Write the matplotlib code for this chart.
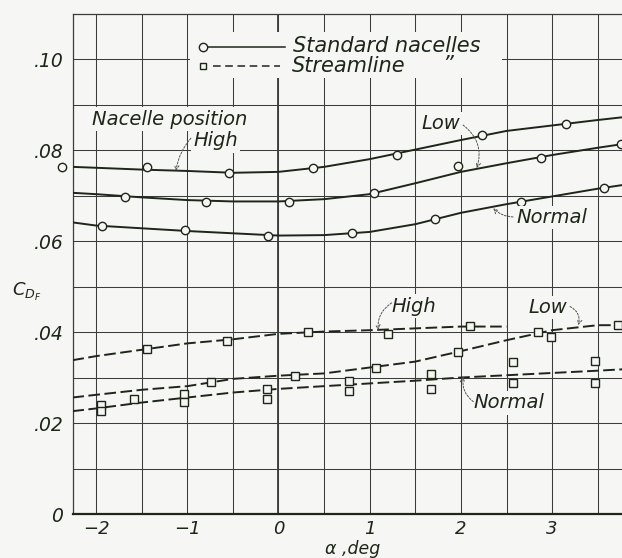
import matplotlib
matplotlib.use("Agg")
import matplotlib.pyplot as plt
from matplotlib.patches import Rectangle

# ---------------- data ----------------
# faired curves, alpha (deg)
curve_alpha = [-2.26, -2.0, -1.5, -1.0, -0.5, 0.0, 0.5, 1.0, 1.5, 2.0, 2.5, 3.0, 3.5, 3.77]
std_high_curve = [0.0763, 0.0761, 0.0757, 0.0754, 0.0750, 0.0752, 0.0763, 0.0780, 0.0801, 0.0822, 0.0842, 0.0854, 0.0866, 0.0872]
std_low_curve = [0.0706, 0.0703, 0.0696, 0.0690, 0.0687, 0.0687, 0.0692, 0.0703, 0.0727, 0.0752, 0.0771, 0.0789, 0.0805, 0.0813]
std_normal_curve = [0.0641, 0.0634, 0.0628, 0.0622, 0.0617, 0.0612, 0.0613, 0.0620, 0.0637, 0.0662, 0.0681, 0.0698, 0.0715, 0.0723]

sl_high_alpha = [-2.26, -2.0, -1.5, -1.0, -0.5, 0.0, 0.5, 1.0, 1.5, 2.0, 2.5]
sl_high_curve = [0.0338, 0.0347, 0.0361, 0.0375, 0.0384, 0.0396, 0.0401, 0.0404, 0.0408, 0.0412, 0.0412]
sl_low_curve = [0.0256, 0.0262, 0.0273, 0.0281, 0.0297, 0.0304, 0.0309, 0.0322, 0.0335, 0.0358, 0.0382, 0.0404, 0.0415, 0.0415]
sl_normal_curve = [0.0226, 0.0232, 0.0245, 0.0256, 0.0267, 0.0275, 0.0281, 0.0287, 0.0293, 0.0300, 0.0305, 0.0310, 0.0315, 0.0318]

# test points, standard nacelles (circles)
std_high_a = [-2.37, -1.445, -0.54, 0.375, 1.30, 2.23, 3.15]
std_high_cd = [0.0763, 0.0763, 0.0749, 0.0760, 0.0789, 0.0833, 0.0857]
std_low_a = [-1.68, -0.795, 0.12, 1.05, 1.965, 2.875, 3.76]
std_low_cd = [0.0696, 0.0685, 0.0685, 0.0705, 0.0766, 0.0783, 0.0813]
std_normal_a = [-1.94, -1.03, -0.12, 0.806, 1.716, 2.66, 3.57]
std_normal_cd = [0.0633, 0.0624, 0.0612, 0.0617, 0.0648, 0.0686, 0.0716]

# test points, streamline nacelles (squares)
sl_high_a = [-1.445, -0.56, 0.327, 1.20, 2.10, 2.985]
sl_high_cd = [0.0363, 0.0381, 0.0400, 0.0395, 0.0414, 0.0388]
sl_low_a = [-1.585, -0.74, 0.18, 1.07, 1.965, 2.85, 3.725]
sl_low_cd = [0.0253, 0.0291, 0.0304, 0.0320, 0.0355, 0.0400, 0.0415]
sl_normal_a = [-1.95, -1.036, -0.13, 0.773, 1.67, 2.57, 3.47]
sl_normal_cd_upper = [0.0240, 0.0263, 0.0274, 0.0293, 0.0308, 0.0333, 0.0337]
sl_normal_cd_lower = [0.0226, 0.0247, 0.0253, 0.0271, 0.0275, 0.0287, 0.0287]

x_ticks = [-2, -1, 0, 1, 2, 3]
x_ticklabels = ["\u22122", "\u22121", "0", "1", "2", "3"]
y_ticks = [0.0, 0.02, 0.04, 0.06, 0.08, 0.10]
y_ticklabels = ["0", ".02", ".04", ".06", ".08", ".10"]

# ---------------- style ----------------
BG = "#f6f6f4"
INK = "#1e2618"
GRID = "#3c3c3c"
FONT = dict(family="DejaVu Sans", style="oblique")

fig = plt.figure(figsize=(6.22, 5.58), dpi=100, facecolor=BG)
ax = fig.add_axes([73 / 622, 44 / 558, 549 / 622, 500 / 558], facecolor=BG)

ax.set_xticks(x_ticks)
ax.set_xticks([-1.5, -0.5, 0.5, 1.5, 2.5, 3.5], minor=True)
ax.set_yticks(y_ticks)
ax.set_yticks([0.01, 0.03, 0.05, 0.07, 0.09], minor=True)
ax.set_xticklabels(x_ticklabels, fontsize=13, color=INK, **FONT)
ax.set_yticklabels(y_ticklabels, fontsize=13.5, color=INK, **FONT)
ax.tick_params(which="both", length=0)
ax.tick_params(axis="x", pad=4)
ax.tick_params(axis="y", pad=7)
ax.set_axisbelow(True)
ax.grid(which="both", color=GRID, lw=0.75)
ax.axvline(0, color=GRID, lw=1.3, zorder=0.9)

for side in ["left", "top"]:
    ax.spines[side].set_color(GRID)
    ax.spines[side].set_linewidth(0.9)
ax.spines["bottom"].set_color(INK)
ax.spines["bottom"].set_linewidth(1.6)
ax.spines["right"].set_visible(False)

lw = 1.4
dash = (6, 2.3)
mk = dict(markersize=6, markerfacecolor=BG, markeredgecolor=INK, markeredgewidth=1.0,
          linestyle="none", clip_on=False, zorder=4)

# curves
for cv in (std_high_curve, std_low_curve, std_normal_curve):
    ax.plot(curve_alpha, cv, color=INK, lw=lw, zorder=3)
ax.plot(sl_high_alpha, sl_high_curve, color=INK, lw=lw, dashes=dash, zorder=3)
ax.plot(curve_alpha, sl_low_curve, color=INK, lw=lw, dashes=dash, zorder=3)
ax.plot(curve_alpha, sl_normal_curve, color=INK, lw=lw, dashes=dash, zorder=3)

# points
for a, c in ((std_high_a, std_high_cd), (std_low_a, std_low_cd), (std_normal_a, std_normal_cd)):
    ax.plot(a, c, marker="o", **mk)
for a, c in ((sl_high_a, sl_high_cd), (sl_low_a, sl_low_cd),
             (sl_normal_a, sl_normal_cd_upper), (sl_normal_a, sl_normal_cd_lower)):
    ax.plot(a, c, marker="s", **dict(mk, markersize=5.5))

# legend (drawn by hand: marker at the left end of the line)
ax.add_patch(Rectangle((-0.97, 0.0958), 3.42, 0.0102, facecolor=BG, edgecolor="none", zorder=2))
ax.plot([-0.828, 0.071], [0.1026, 0.1026], color=INK, lw=1.1, zorder=3)
ax.plot([-0.828], [0.1026], marker="o", **mk)
ax.plot([-0.718, 0.016], [0.0985, 0.0985], color=INK, lw=1.1, dashes=(5, 3), zorder=3)
ax.plot([-0.828], [0.0985], marker="s", **dict(mk, markersize=5))
ax.text(0.159, 0.1029, "Standard nacelles", fontsize=15, color=INK, va="center", ha="left", zorder=5, **FONT)
ax.text(0.148, 0.0984, "Streamline", fontsize=15, color=INK, va="center", ha="left", zorder=5, **FONT)
ax.text(1.80, 0.0986, "\u201d", fontsize=15, color=INK, va="center", ha="left", zorder=5, **FONT)

# annotations
box = dict(facecolor=BG, edgecolor="none", pad=1.5)
ax.text(-2.045, 0.0868, "Nacelle position", fontsize=14, color=INK, va="center", ha="left",
        bbox=box, zorder=5, **FONT)


def label(text, tx, ty, ax0, ay0, ax1, ay1, rad):
    ax.text(tx, ty, text, fontsize=14, color=INK, va="center", ha="left", bbox=box, zorder=5, **FONT)
    ax.annotate("", xy=(ax1, ay1), xytext=(ax0, ay0), zorder=5,
                arrowprops=dict(arrowstyle="->", color="#555555", lw=0.7, linestyle=(0, (2, 1.5)),
                                shrinkA=0, shrinkB=0, connectionstyle=f"arc3,rad={rad}",
                                mutation_scale=8))


label("High", -0.9375, 0.0820, -0.96, 0.0826, -1.124, 0.0754, 0.15)
label("Low", 1.570, 0.0858, 2.023, 0.0855, 2.173, 0.0760, -0.35)
label("Normal", 2.612, 0.0651, 2.571, 0.0653, 2.355, 0.0672, -0.2)
label("High", 1.241, 0.0457, 1.241, 0.0464, 1.094, 0.0404, 0.3)
label("Low", 2.736, 0.0454, 3.196, 0.0456, 3.287, 0.0415, -0.4)
label("Normal", 2.133, 0.0244, 2.136, 0.0247, 2.026, 0.0302, -0.3)

# axis titles
ax.text(-0.112, 0.444, "$C_{D_F}$", transform=ax.transAxes, fontsize=13, color=INK,
        ha="left", va="center")
ax.text(0.51, -0.081, "\u03b1 ,deg", transform=ax.transAxes, fontsize=12.5, color=INK,
        ha="center", va="baseline", **FONT)

# limits last, so tick setting cannot widen them
ax.set_xlim(-2.253, 3.766)
ax.set_ylim(0, 0.1099)

fig.savefig("out.png", dpi=100, facecolor=BG)
